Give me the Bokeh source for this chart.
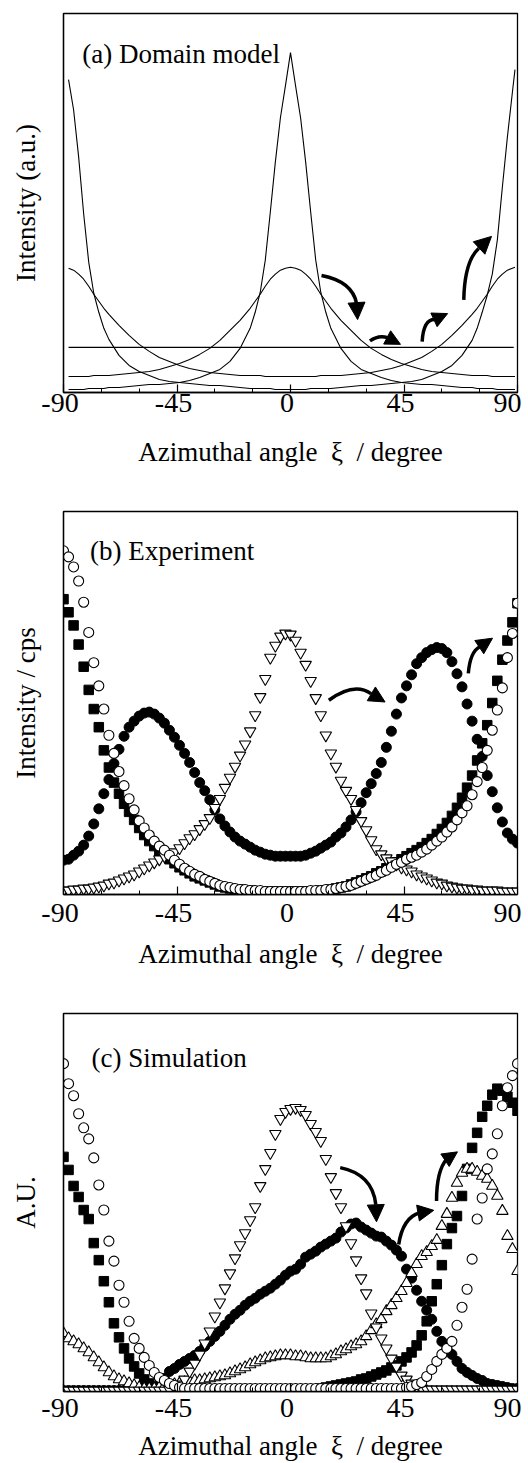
from bokeh.plotting import figure
from bokeh.layouts import column
from bokeh.models import Range1d, FixedTicker, Label, Arrow, NormalHead
from bokeh.embed import file_html
from bokeh.resources import INLINE

FONT = "Liberation Serif"

# ---------------- common axis ----------------
x_ticks = [-90, -45, 0, 45, 90]
x_minor = [-75, -60, -30, -15, 15, 30, 60, 75]
x_tick_text = {-90: "-90\u00a0", -45: "-45\u00a0", 0: "0\u00a0", 45: "45\u00a0", 90: "90\u00a0"}
x_title = "Azimuthal angle\u00a0\u00a0\u03be\u00a0\u00a0/ degree"

# ---------------- panel (a): Domain model (line curves) ----------------
angle_a = [-88, -86, -84, -82, -80, -78, -76, -74, -72,
           -68, -64, -60, -56, -52, -48, -44, -40, -36, -32, -28, -24, -20,
           -16, -14, -12, -10, -8, -6, -4, -2, 0, 2, 4, 6, 8, 10, 12, 14, 16,
           20, 24, 28, 32, 36, 40, 44, 48, 52, 56, 60, 64, 68,
           72, 74, 76, 78, 80, 82, 84, 86, 88, 89]
sharp_0 = [3, 3, 3, 3, 4, 4, 4, 4, 5,
           5, 6, 7, 8, 8, 9, 10, 12, 15, 19, 23, 31, 44,
           64, 80, 100, 132, 180, 230, 274, 306, 339, 306, 274, 230, 180, 132, 100, 80, 64,
           44, 31, 23, 19, 15, 12, 10, 9, 8, 8, 7, 6, 5,
           5, 4, 4, 4, 4, 3, 3, 3, 3, 3]
sharp_90 = [312, 282, 235, 178, 130, 99, 80, 64, 53,
            37, 27, 21, 17, 13, 11, 10, 9, 8, 7, 7, 6, 5,
            4, 4, 4, 4, 4, 3, 3, 3, 3, 3, 3, 3, 4, 4, 4, 4, 4,
            5, 6, 7, 7, 8, 9, 10, 11, 13, 17, 21, 27, 37,
            52, 64, 80, 97, 118, 152, 205, 255, 300, 322]
broad_0 = [16, 16, 16, 16, 16, 17, 17, 17, 17,
           18, 19, 20, 21, 23, 26, 29, 33, 38, 44, 52, 62, 72,
           84, 91, 98, 106, 113, 118, 122, 124, 125, 124, 122, 118, 113, 106, 98, 91, 84,
           72, 62, 52, 44, 38, 33, 29, 26, 23, 21, 20, 19, 18,
           17, 17, 17, 17, 16, 16, 16, 16, 16, 16]
broad_90 = [124, 122, 118, 113, 106, 98, 91, 84, 78,
            67, 57, 48, 41, 35, 31, 27, 24, 22, 20, 19, 18, 17,
            17, 17, 17, 16, 16, 16, 16, 16, 16, 16, 16, 16, 16, 16, 17, 17, 17,
            17, 18, 19, 20, 22, 24, 27, 31, 35, 41, 48, 57, 67,
            78, 84, 91, 98, 106, 113, 118, 122, 124, 125]
flat_x = [-88, 88.5]
flat_y = [45, 45]

# ---------------- panel (b): Experiment ----------------
angle_b = list(range(-90, 92, 2))
exp_open_circle = [341, 335, 325, 311, 290, 260, 230, 207, 184, 158,
                   140, 122, 108, 95, 84, 73, 66, 59, 53, 48,
                   44, 39, 34, 30, 26, 23, 20, 18, 15, 13,
                   11, 9, 8, 7, 6, 5, 5, 4, 4, 4,
                   3, 3, 3, 3, 3, 3, 3, 3, 3, 4,
                   4, 4, 5, 5, 6, 7, 8, 9, 11, 13,
                   15, 17, 19, 22, 24, 27, 30, 32, 35, 37,
                   39, 42, 45, 49, 53, 57, 62, 67, 74, 81,
                   88, 99, 112, 126, 143, 163, 183, 205, 235, 259,
                   289]
exp_square = [293, 280, 267, 248, 226, 203, 184, 166, 143, 126,
              111, 100, 90, 82, 74, 66, 59, 53, 48, 43,
              39, 35, 31, 27, 24, 21, 18, 16, 14, 12,
              10, 8, 7, 6, 5, 5, 4, 4, 3, 3,
              3, 3, 3, 3, 3, 3, 3, 3, 3, 3,
              3, 4, 4, 5, 6, 7, 8, 10, 12, 14,
              16, 18, 21, 23, 26, 29, 32, 35, 38, 41,
              44, 47, 51, 55, 60, 65, 71, 78, 86, 96,
              106, 118, 133, 150, 168, 190, 212, 233, 252, 270,
              289]
exp_filled_circle = [34, 35, 39, 43, 49, 58, 70, 85, 100, 114,
                     130, 144, 157, 166, 172, 177, 180, 181, 179, 175,
                     170, 163, 156, 148, 140, 131, 121, 111, 103, 94,
                     84, 75, 68, 62, 57, 53, 50, 47, 44, 42,
                     40, 39, 38, 38, 38, 38, 38, 38, 39, 41,
                     43, 46, 49, 52, 57, 61, 67, 74, 82, 91,
                     101, 110, 120, 131, 146, 162, 179, 195, 207, 218,
                     229, 235, 240, 243, 245, 244, 240, 231, 219, 206,
                     189, 172, 154, 137, 118, 102, 86, 72, 61, 55,
                     51]
exp_down_triangle = [4, 4, 5, 5, 6, 6, 7, 8, 9, 11,
                     12, 14, 16, 18, 20, 23, 26, 29, 32, 35,
                     38, 40, 42, 46, 51, 56, 60, 65, 70, 76,
                     86, 95, 106, 116, 127, 138, 149, 162, 178, 196,
                     214, 235, 247, 256, 259, 258, 252, 240, 228, 212,
                     195, 178, 158, 140, 127, 113, 103, 95, 84, 73,
                     64, 54, 45, 40, 36, 33, 30, 27, 25, 23,
                     20, 18, 16, 14, 12, 11, 9, 8, 7, 6,
                     6, 5, 5, 4, 4, 4, 4, 3, 3, 3,
                     3]

# ---------------- panel (c): Simulation ----------------
angle_c = list(range(-90, 92, 2))
sim_open_circle = [327, 307, 295, 277, 263, 252, 233, 206, 181, 150,
                   130, 106, 89, 70, 53, 43, 34, 26, 19, 14,
                   11, 8, 6, 4, 3, 3, 3, 3, 3, 3,
                   3, 3, 3, 3, 3, 3, 3, 3, 3, 3,
                   3, 3, 3, 3, 3, 3, 3, 3, 3, 3,
                   3, 3, 3, 3, 3, 3, 3, 3, 3, 3,
                   3, 3, 3, 3, 3, 3, 3, 3, 4, 5,
                   7, 9, 15, 22, 30, 37, 43, 50, 66, 84,
                   102, 132, 172, 193, 222, 237, 257, 285, 303, 315,
                   327]
sim_square = [234, 221, 205, 194, 181, 172, 148, 131, 110, 89,
              68, 54, 43, 33, 25, 18, 12, 8, 5, 3,
              2, 2, 2, 2, 2, 2, 2, 2, 2, 2,
              2, 2, 2, 2, 2, 2, 2, 2, 2, 2,
              2, 2, 2, 2, 2, 2, 2, 2, 2, 2,
              2, 3, 4, 5, 6, 7, 8, 9, 10, 12,
              13, 15, 17, 19, 21, 24, 26, 30, 34, 39,
              46, 56, 70, 90, 107, 126, 147, 163, 175, 195,
              222, 243, 258, 274, 285, 296, 302, 300, 294, 288,
              280]
sim_filled_circle = [1, 1, 1, 1, 1, 1, 1, 1, 1, 1,
                     1, 1, 1, 1, 1, 1, 1, 1, 1, 6,
                     13, 20, 23, 27, 30, 33, 36, 40, 45, 50,
                     55, 60, 66, 72, 77, 81, 86, 90, 93, 97,
                     100, 103, 107, 111, 116, 120, 122, 127, 134, 137,
                     140, 144, 147, 150, 153, 159, 163, 167, 168, 164,
                     161, 158, 155, 154, 150, 146, 141, 135, 122, 113,
                     101, 90, 81, 72, 60, 50, 43, 37, 30, 23,
                     19, 16, 13, 11, 8, 7, 6, 5, 4, 3,
                     3]
sim_up_triangle = [58, 53, 50, 47, 43, 39, 34, 29, 24, 19,
                   15, 12, 10, 8, 6, 4, 3, 3, 3, 4,
                   5, 6, 7, 8, 9, 10, 11, 11, 12, 13,
                   14, 15, 16, 18, 20, 22, 24, 27, 29, 31,
                   33, 34, 35, 36, 36, 36, 35, 35, 34, 33,
                   33, 33, 33, 35, 37, 40, 42, 45, 47, 50,
                   55, 61, 67, 72, 80, 86, 93, 100, 108, 118,
                   127, 135, 139, 145, 151, 165, 177, 193, 208, 218,
                   222, 222, 219, 215, 212, 205, 195, 180, 155, 142,
                   120]
sim_down_triangle = [1, 1, 1, 1, 1, 1, 1, 1, 1, 1,
                     1, 1, 1, 1, 1, 1, 1, 1, 1, 1,
                     1, 2, 4, 7, 12, 20, 28, 37, 48, 60,
                     75, 89, 103, 118, 133, 146, 158, 171, 184, 205,
                     222, 238, 257, 272, 279, 282, 283, 281, 276, 267,
                     259, 250, 232, 214, 198, 184, 165, 148, 131, 113,
                     98, 78, 64, 53, 43, 33, 25, 16, 12, 8,
                     5, 3, 2, 2, 2, 2, 2, 2, 2, 2,
                     2, 2, 2, 2, 2, 2, 2, 2, 2, 2,
                     2]

# ---------------- curved arrows: start, control, head base, tip, head size ----------------
arrows_a = [(12.3, 116.7, 24.6, 110.7, 26.2, 88.7, 26.6, 72.7, 17),
            (31.5, 51.4, 34.9, 57.7, 38.5, 54.7, 43.6, 48.0, 15),
            (52.2, 50.7, 52.7, 72.7, 57.1, 72.7, 62.3, 78.7, 15),
            (68.7, 92.4, 69.0, 130.7, 74.6, 143.7, 79.7, 155.7, 17)]
arrows_b = [(15.2, 192.7, 25.2, 211.0, 31.9, 199.3, 37.5, 191.0, 16),
            (70.5, 219.3, 71.2, 241.0, 75.2, 246.0, 80.1, 254.3, 16)]
arrows_c = [(19.7, 223.3, 32.5, 216.7, 33.8, 186.7, 34.1, 169.3, 17),
            (42.9, 146.7, 44.5, 173.3, 51.2, 178.3, 56.8, 180.7, 16),
            (57.9, 190.0, 57.9, 220.0, 61.9, 231.7, 66.2, 239.0, 15)]


def make_fig(height, top, bottom, ymax, ylabel, tick_standoff, title_standoff):
    p = figure(width=528, height=height, title=None,
               x_range=Range1d(-90, 90), y_range=Range1d(0, ymax),
               output_backend="svg", toolbar_location=None,
               min_border_left=63, min_border_right=11,
               min_border_top=top, min_border_bottom=bottom)
    p.xgrid.visible = False
    p.ygrid.visible = False
    p.background_fill_color = "white"
    p.border_fill_color = "white"
    p.outline_line_color = "black"
    p.outline_line_width = 1.3
    p.outline_line_alpha = 1.0

    xa = p.xaxis[0]
    xa.ticker = FixedTicker(ticks=x_ticks, minor_ticks=x_minor)
    xa.major_label_overrides = x_tick_text
    xa.major_tick_in = 8
    xa.major_tick_out = 0
    xa.minor_tick_in = 4
    xa.minor_tick_out = 0
    xa.axis_line_width = 1.3
    xa.major_tick_line_width = 1.2
    xa.minor_tick_line_width = 1.0
    xa.major_label_text_font = FONT
    xa.major_label_text_font_size = "28px"
    xa.major_label_text_color = "black"
    xa.major_label_standoff = tick_standoff
    xa.axis_label = x_title
    xa.axis_label_text_font = FONT
    xa.axis_label_text_font_size = "27px"
    xa.axis_label_text_font_style = "normal"
    xa.axis_label_text_color = "black"
    xa.axis_label_standoff = title_standoff

    ya = p.yaxis[0]
    ya.ticker = FixedTicker(ticks=[])
    ya.major_tick_in = 0
    ya.major_tick_out = 0
    ya.minor_tick_in = 0
    ya.minor_tick_out = 0
    ya.major_label_standoff = 0
    ya.axis_line_width = 1.3
    ya.axis_label = ylabel
    ya.axis_label_text_font = FONT
    ya.axis_label_text_font_size = "27px"
    ya.axis_label_text_font_style = "normal"
    ya.axis_label_text_color = "black"
    ya.axis_label_standoff = 23
    return p


def add_arrows(p, arrows):
    for (sx, sy, cx, cy, bx, by, tx, ty, hs) in arrows:
        p.quadratic(x0=[sx], y0=[sy], x1=[bx], y1=[by], cx=[cx], cy=[cy],
                    line_color="black", line_width=3.5)
        p.add_layout(Arrow(x_start=bx, y_start=by, x_end=tx, y_end=ty,
                           line_color="black", line_width=3.5,
                           end=NormalHead(size=hs, fill_color="black",
                                          line_color="black", line_width=1)))


def add_label(p, x, y, text):
    p.add_layout(Label(x=x, y=y, text=text, text_font=FONT, text_font_size="27px",
                       text_align="left", text_baseline="middle", text_color="black"))


# ---- (a)
pa = make_fig(472, 13, 80, 378, "Intensity (a.u.)", -6, 16)
for ys in (sharp_0, sharp_90, broad_0, broad_90):
    pa.line(angle_a, ys, line_color="black", line_width=1.1)
pa.line(flat_x, flat_y, line_color="black", line_width=1.3)
add_arrows(pa, arrows_a)
add_label(pa, -82.6, 338, "(a) Domain model")

# ---- (b)
pb = make_fig(502, 39, 80, 380, "Intensity / cps", 2, 8)
pb.scatter(angle_b, exp_filled_circle, marker="circle", size=10,
           fill_color="black", line_color="black")
pb.scatter(angle_b, exp_square, marker="square", size=9.5,
           fill_color="black", line_color="black")
pb.scatter(angle_b, exp_down_triangle, marker="inverted_triangle", size=11.5,
           fill_color="white", line_color="black", line_width=1.1)
pb.scatter(angle_b, exp_open_circle, marker="circle", size=10,
           fill_color="white", line_color="black", line_width=1.1)
add_arrows(pb, arrows_b)
add_label(pb, -79.5, 341, "(b) Experiment")

# ---- (c)
pc = make_fig(489, 39, 71, 377, "A.U.", 0, 5)
pc.scatter(angle_c, sim_filled_circle, marker="circle", size=10,
           fill_color="black", line_color="black")
pc.scatter(angle_c, sim_square, marker="square", size=9.5,
           fill_color="black", line_color="black")
pc.scatter(angle_c, sim_up_triangle, marker="triangle", size=11.5,
           fill_color="white", line_color="black", line_width=1.1)
pc.scatter(angle_c, sim_down_triangle, marker="inverted_triangle", size=11.5,
           fill_color="white", line_color="black", line_width=1.1)
pc.scatter(angle_c, sim_open_circle, marker="circle", size=10,
           fill_color="white", line_color="black", line_width=1.1)
add_arrows(pc, arrows_c)
add_label(pc, -78.9, 333, "(c) Simulation")

layout = column(pa, pb, pc, spacing=0)
open("out.html", "w").write(file_html(layout, INLINE))
